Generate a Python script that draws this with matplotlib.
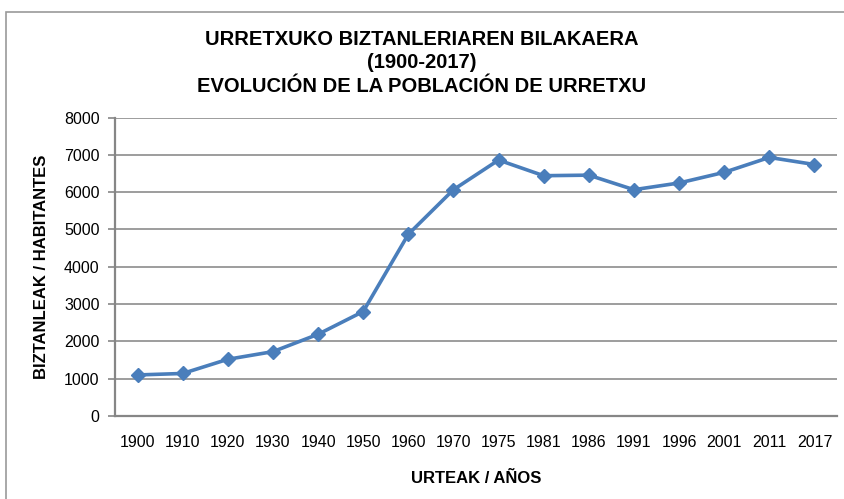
import matplotlib
matplotlib.use("Agg")
import matplotlib.pyplot as plt
from matplotlib.patches import Rectangle

years = ["1900", "1910", "1920", "1930", "1940", "1950", "1960", "1970", "1975",
         "1981", "1986", "1991", "1996", "2001", "2011", "2017"]
population = [1100, 1140, 1520, 1725, 2190, 2800, 4870, 6065, 6860,
              6440, 6455, 6065, 6245, 6530, 6930, 6740]
y_ticks = [0, 1000, 2000, 3000, 4000, 5000, 6000, 7000, 8000]

title = "URRETXUKO BIZTANLERIAREN BILAKAERA\n(1900-2017)\nEVOLUCIÓN DE LA POBLACIÓN DE URRETXU"
xlabel = "URTEAK / AÑOS"
ylabel = "BIZTANLEAK / HABITANTES"

plt.rcParams['font.family'] = ['Liberation Sans', 'DejaVu Sans']

W, H = 844, 499
fig = plt.figure(figsize=(W / 100, H / 100), dpi=100)
fig.patch.set_facecolor("white")

# outer chart border
fig.patches.append(Rectangle((6 / W, -0.1), 1.2, (H - 12) / H + 0.1,
                             transform=fig.transFigure, fill=False,
                             edgecolor="#9a9a9a", linewidth=1.2))

left, right = 115 / W, 837 / W
bottom, top = (H - 416) / H, (H - 117.5) / H
ax = fig.add_axes([left, bottom, right - left, top - bottom])

x = list(range(len(years)))
ax.plot(x, population, color="#4A7EBB", linewidth=2.6, marker="D",
        markersize=7.5, markeredgecolor="#4A7EBB", markerfacecolor="#4A7EBB",
        zorder=3, clip_on=False)

ax.set_xlim(-0.5, len(years) - 0.5)
ax.set_ylim(0, 8000)
ax.set_yticks(y_ticks)
ax.set_yticklabels([str(v) for v in y_ticks], fontsize=11.5)
ax.set_xticks(x)
ax.set_xticklabels(years, fontsize=11.5)
ax.tick_params(axis="x", length=0, pad=14)
ax.tick_params(axis="y", length=5, width=1.2, color="#868686", pad=6, direction="out")

ax.grid(axis="y", color="#8c8c8c", linewidth=1.2)
ax.set_axisbelow(True)
for s in ["top", "right"]:
    ax.spines[s].set_visible(False)
for s in ["left", "bottom"]:
    ax.spines[s].set_color("#868686")
    ax.spines[s].set_linewidth(1.6)

ax.set_xlabel(xlabel, fontsize=12, fontweight="bold", labelpad=15)
ax.set_ylabel(ylabel, fontsize=12, fontweight="bold", labelpad=11)

fig.text(0.5, (H - 63) / H, title, ha="center", va="center", fontsize=14.5,
         fontweight="bold", linespacing=1.27)

fig.savefig("out.png", dpi=100)
